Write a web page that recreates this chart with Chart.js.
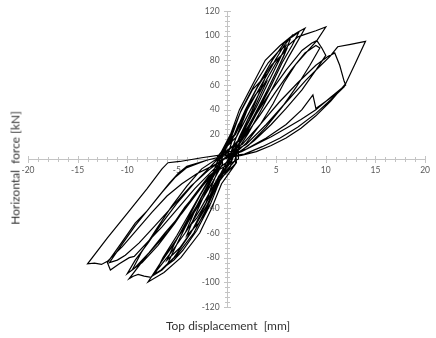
<!DOCTYPE html>
<html>
<head>
<meta charset="utf-8">
<script src="https://cdn.jsdelivr.net/npm/chart.js@4.4.1/dist/chart.umd.min.js"></script>
<style>
  html, body { margin: 0; padding: 0; background: #fff; }
  #wrap { position: relative; width: 436px; height: 338px; }
  .axis-title { position: absolute; white-space: pre; font-family: Lato, sans-serif; font-size: 12px; color: #333; }
  #yTitle { left: 15px; top: 168px; transform: translate(-50%, -50%) rotate(-90deg); }
  #xTitle { left: 228px; top: 325px; transform: translate(-50%, -50%); }
</style>
</head>
<body>
<div id="wrap">
  <canvas id="chart" width="436" height="338"></canvas>
  <div class="axis-title" id="yTitle">Horizontal  force [kN]</div>
  <div class="axis-title" id="xTitle">Top displacement  [mm]</div>
</div>
<script>
// Cyclic test record: top displacement [mm] and horizontal force [kN],
// one pair of arrays per imposed displacement cycle.
const dispCycle2mm  = [0.6, 1.2, 2, 1.6, 0.9, 0.3, -0.6, -1.2, -2, -1.6, -0.9, -0.3];
const forceCycle2mm = [16, 28, 38, 30, 16, 2, -12, -24, -34, -24, -10, 4];

const dispCycle4mm  = [0.5, 1.4, 2.6, 4, 3.4, 2.5, 1.3, 0.5, -0.6, -1.6, -2.8, -4, -3.4, -2.4, -1.2, -0.4];
const forceCycle4mm = [18, 38, 56, 68, 56, 38, 18, 2, -16, -36, -52, -62, -50, -32, -12, 5];

const dispCycle4mmB  = [0.7, 1.7, 2.9, 4, 3.3, 2.3, 1.1, 0.6, -0.8, -1.8, -3, -4, -3.3, -2.2, -1, -0.6];
const forceCycle4mmB = [18, 36, 52, 62, 50, 32, 14, 0, -14, -32, -48, -57, -44, -26, -8, 2];

const dispCycle6mm  = [0.5, 1.5, 2.8, 4.2, 5.2, 6, 5.3, 4.2, 3, 1.7, 0.6, 0.4,
                       -0.6, -1.7, -3, -4.4, -5.3, -6, -5.3, -4.2, -3, -1.7, -0.6, -0.3];
const forceCycle6mm = [20, 40, 60, 78, 87, 92, 80, 62, 42, 22, 8, 2,
                       -16, -38, -58, -74, -82, -86, -74, -56, -38, -18, -4, 6];

const dispCycle6mmB  = [0.7, 1.8, 3.1, 4.5, 6, 5.2, 4, 2.7, 1.4, 0.8,
                        -0.8, -2, -3.3, -4.7, -6, -5.2, -4, -2.7, -1.3, -0.7];
const forceCycle6mmB = [18, 38, 58, 76, 88, 74, 54, 34, 15, -2,
                        -16, -38, -56, -72, -82, -68, -50, -30, -11, 3];

const dispCycle8mm  = [0.4, 1.3, 2.6, 3.9, 5.4, 6.6, 7.2, 7.9, 7.2, 6.2, 4.8, 3.5, 2.2, 1, 0.9,
                       -0.5, -1.5, -2.7, -4.6, -6.3, -7.9, -6.3, -4.6, -3, -1.5, -0.4, -0.5];
const forceCycle8mm = [20, 40, 60, 80, 92, 100, 103, 106, 96, 82, 60, 40, 21, 6, -4,
                       -20, -40, -60, -80, -92, -99.7, -80, -60, -40, -20, -4, 6];

const dispCycle8mmB  = [0.8, 1.9, 3.2, 4.6, 5.8, 6.6, 7.3, 6.6, 5.6, 4.4, 3.1, 1.8, 0.6, 0.4,
                        -0.9, -2, -3.3, -5, -6.5, -7.5, -6.8, -5.4, -4.2, -3, -1.6, -0.5, -0.9];
const forceCycle8mmB = [20, 40, 60, 80, 94, 99, 103, 92, 78, 58, 38, 18, 4, -6,
                        -20, -40, -60, -78, -90, -95, -86, -70, -54, -38, -18, -3, 2];

const dispCycle8mmC  = [0.9, 2.1, 3.5, 4.9, 5.8, 6.5, 5.8, 4.6, 3.4, 2.1, 0.9, 1,
                        -1.1, -2.3, -3.6, -5.3, -6.6, -7.2, -6.4, -5, -3.8, -2.6, -1.3, -0.6];
const forceCycle8mmC = [20, 40, 60, 80, 92, 99, 84, 64, 44, 24, 8, -3,
                        -20, -40, -60, -80, -90, -93, -80, -62, -45, -28, -10, 5];

const dispCycle10mm  = [1, 2.3, 3.6, 5, 6.2, 7.2, 7.9, 9, 10, 9.1, 8, 7, 5.8, 4.7, 3.4, 2, 0.8, 0.5,
                        -1.2, -2.6, -4, -5.6, -6.8, -7.6, -8.3, -8.9, -9.4, -9.8,
                        -8, -5.9, -4.2, -1.9, -0.6, -0.8];
const forceCycle10mm = [18, 38, 58, 78, 92, 99, 101, 104, 107, 96, 86, 77, 62, 45, 28, 13, 4, -2,
                        -20, -40, -58, -76, -88, -96, -95, -93.5, -95, -97,
                        -78, -59, -39, -17, -4, -1];

const dispCycle10mmB  = [1.3, 2.8, 4.4, 6, 7.6, 8.6, 9.1, 9.6, 10, 9, 7.6, 6, 4.5, 2.8, 1.2, 1.2,
                         -1.5, -3, -4.5, -6.2, -7.8, -9.2, -10, -9.2, -7.9, -6.5, -5, -3.3, -1.6, -0.4];
const forceCycle10mmB = [16, 34, 54, 72, 88, 94, 96, 90, 84, 72, 56, 41, 28, 15, 5, 0,
                         -12, -28, -44, -60, -76, -88, -93, -82, -68, -52, -36, -20, -6, 4];

const dispCycle10mmC  = [1.8, 3.4, 5, 6.5, 7.9, 9, 9.4, 8.4, 7, 5.6, 4, 2.2, 0.8, 0.6,
                         -1.8, -3.5, -5.2, -6.9, -8.5, -9.5, -8.6, -7, -5.5, -4, -2.5, -1, -1];
const forceCycle10mmC = [18, 36, 55, 72, 86, 92, 90, 76, 58, 42, 26, 11, 3, 1,
                         -14, -32, -52, -70, -84, -90, -76, -56, -38, -22, -8, 0, 0];

const dispCycle12mm  = [1.6, 3.4, 5.3, 7.2, 9, 10.2, 10.9, 11.4, 11.85, 12, 10.5, 9, 7.5, 6, 4.5, 3, 1.5, 0,
                        -1.5, -3.2, -4.9, -6.5, -7.8, -9.3, -9.8, -10.8, -11.7, -12,
                        -10.5, -9.2, -8, -6.9, -5.8, -4.9, -4, -2, 0];
const forceCycle12mm = [12, 28, 46, 62, 76, 83, 86, 76, 63, 60, 50, 40, 32, 25, 18, 12, 6, 2,
                        -10, -24, -40, -55, -66, -79, -80, -85, -90, -84,
                        -67, -52, -42, -31, -20, -12, -6, -1, 3];

const dispCycle12mmB  = [2, 4, 6, 7.6, 8.7, 9, 10.4, 11.9, 10.5, 9, 7.2, 5.4, 3.6, 1.8, 0,
                         -1.8, -3.6, -5.4, -7.2, -8.8, -10.2, -11, -11.8, -10.6, -9.2, -7.8, -6.5, -5.2, -4, -2, 0];
const forceCycle12mmB = [8, 17, 28, 40, 52, 41, 49, 59, 48, 37, 26, 17, 10, 4, 2,
                         -9, -22, -38, -54, -68, -78, -82, -84, -70, -54, -40, -27, -15, -7, -1, 3];

const dispCycle14mm  = [2, 4, 6, 8, 9.5, 10.4, 11.2, 12.5, 14, 13, 12, 10.5, 9, 7.5, 6, 4.5, 3, 1.5, 0,
                        -1.5, -3, -4.5, -6, -7.5, -9, -10.5, -12, -12.6, -13.3, -14,
                        -12, -10, -8, -6.5, -5.9, -4.7, -2.5, 0];
const forceCycle14mm = [12, 28, 46, 64, 76, 83, 91, 93, 95.4, 78, 61, 47, 35, 25, 17, 11, 6, 3, 1,
                        -6, -12, -20, -30, -43, -57, -71, -83, -85.5, -84.5, -85,
                        -64, -44, -24, -8, -3, -2, 1, 4];

// Axis ranges and tick spacing
const xRange = [-20, 20];
const yRange = [-120, 120];
const xMajorStep = 5, xMinorStep = 1;
const yMajorStep = 20, yMinorStep = 4;
// Force labels sit just left of the vertical axis (offset in mm)
const yLabelOffset = -0.7;

const cycles = [
  [dispCycle2mm, forceCycle2mm],
  [dispCycle4mm, forceCycle4mm],
  [dispCycle4mmB, forceCycle4mmB],
  [dispCycle6mm, forceCycle6mm],
  [dispCycle6mmB, forceCycle6mmB],
  [dispCycle8mm, forceCycle8mm],
  [dispCycle8mmB, forceCycle8mmB],
  [dispCycle8mmC, forceCycle8mmC],
  [dispCycle10mm, forceCycle10mm],
  [dispCycle10mmB, forceCycle10mmB],
  [dispCycle10mmC, forceCycle10mmC],
  [dispCycle12mm, forceCycle12mm],
  [dispCycle12mmB, forceCycle12mmB],
  [dispCycle14mm, forceCycle14mm]
];

const points = [{ x: 0, y: 0 }];
cycles.forEach(([d, f]) => d.forEach((v, i) => points.push({ x: v, y: f[i] })));

const axisColor = '#c4c4c4';
const labelColor = '#595959';
const labelFont = { family: 'Lato', size: 8.5 };

// Vertical axis line plus tick marks that cross both centred axes
const crossTicks = {
  id: 'crossTicks',
  beforeDatasetsDraw(chart) {
    const { ctx, scales: { x, y } } = chart;
    const x0 = Math.round(x.getPixelForValue(0)) + 0.5;
    const y0 = Math.round(y.getPixelForValue(0)) + 0.5;
    ctx.save();
    ctx.strokeStyle = axisColor;
    ctx.lineWidth = 1;
    ctx.beginPath();
    ctx.moveTo(x0, y.getPixelForValue(yRange[1]));
    ctx.lineTo(x0, y.getPixelForValue(yRange[0]));
    for (let v = xRange[0]; v <= xRange[1]; v += xMinorStep) {
      const px = Math.round(x.getPixelForValue(v)) + 0.5;
      const len = v % xMajorStep === 0 ? 3.5 : 2.5;
      ctx.moveTo(px, y0 - len);
      ctx.lineTo(px, y0 + len);
    }
    for (let v = yRange[0]; v <= yRange[1]; v += yMinorStep) {
      const py = Math.round(y.getPixelForValue(v)) + 0.5;
      const len = v % yMajorStep === 0 ? 3.5 : 2.5;
      ctx.moveTo(x0 - len, py);
      ctx.lineTo(x0 + len, py);
    }
    ctx.stroke();
    ctx.restore();
  }
};

new Chart(document.getElementById('chart'), {
  type: 'scatter',
  data: {
    datasets: [{
      data: points,
      showLine: true,
      borderColor: '#000',
      borderWidth: 1.2,
      pointRadius: 0,
      pointHoverRadius: 0,
      tension: 0,
      fill: false
    }]
  },
  options: {
    responsive: false,
    animation: false,
    devicePixelRatio: 1,
    layout: { padding: { left: 28, right: 6, top: 11, bottom: 31 } },
    plugins: { legend: { display: false }, tooltip: { enabled: false } },
    scales: {
      x: {
        type: 'linear',
        min: xRange[0],
        max: xRange[1],
        position: { y: 0 },
        grid: { display: false, drawTicks: false },
        border: { display: true, color: axisColor, width: 1 },
        ticks: {
          stepSize: xMajorStep,
          padding: 6,
          color: labelColor,
          font: labelFont,
          maxRotation: 0,
          callback: v => (v === 0 ? '' : v)
        }
      },
      y: {
        type: 'linear',
        min: yRange[0],
        max: yRange[1],
        position: { x: yLabelOffset },
        grid: { display: false, drawTicks: false },
        border: { display: false },
        ticks: {
          stepSize: yMajorStep,
          padding: 0,
          color: labelColor,
          font: labelFont,
          callback: v => (v === 0 ? '' : v)
        }
      }
    }
  },
  plugins: [crossTicks]
});
</script>
</body>
</html>
